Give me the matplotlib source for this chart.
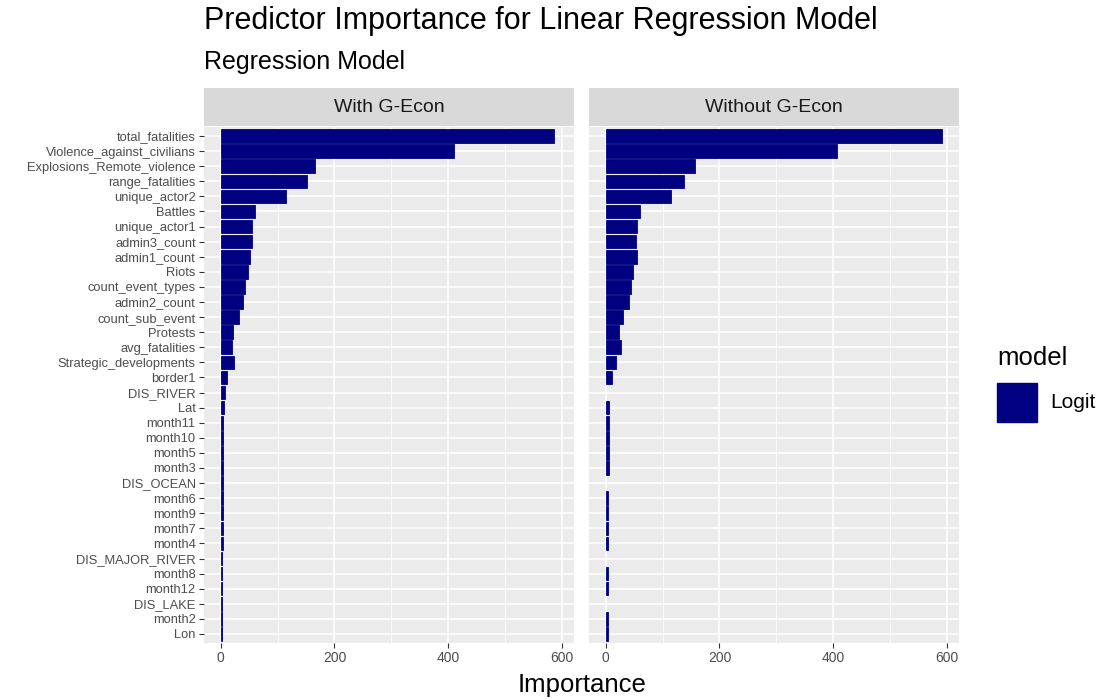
import matplotlib.pyplot as plt
import numpy as np
from matplotlib.patches import Rectangle

plt.rcParams['font.family'] = ['Liberation Sans', 'DejaVu Sans']

# Predictors, listed top to bottom as they appear in the chart
predictors = ['total_fatalities', 'Violence_against_civilians', 'Explosions_Remote_violence',
              'range_fatalities', 'unique_actor2', 'Battles', 'unique_actor1', 'admin3_count',
              'admin1_count', 'Riots', 'count_event_types', 'admin2_count', 'count_sub_event',
              'Protests', 'avg_fatalities', 'Strategic_developments', 'border1', 'DIS_RIVER',
              'Lat', 'month11', 'month10', 'month5', 'month3', 'DIS_OCEAN', 'month6', 'month9',
              'month7', 'month4', 'DIS_MAJOR_RIVER', 'month8', 'month12', 'DIS_LAKE', 'month2', 'Lon']

with_gecon = [587, 410, 165, 152, 114, 60, 55, 54, 51, 48, 42, 39, 32, 22, 20, 24, 11, 8,
              5, 3.5, 3.5, 3.5, 3.5, 3, 3, 3, 3, 3, 2.5, 2.5, 2.5, 2.5, 2, 2]

# G-Econ distance variables are not part of the second model
without_gecon = [592, 407, 157, 138, 115, 61, 55, 53, 54, 47, 44, 41, 31, 24, 26, 18, 11, np.nan,
                 5, 5, 5, 5, 5, np.nan, 4, 4, 4, 4, np.nan, 4, 4, np.nan, 3.5, 3.5]

panels = ['With G-Econ', 'Without G-Econ']
series = [with_gecon, without_gecon]
bar_color = '#000080'

W, H = 1099, 700
fig = plt.figure(figsize=(W / 100, H / 100), dpi=100)

def px_axes(x0, y0, x1, y1):
    return fig.add_axes([x0 / W, 1 - y1 / H, (x1 - x0) / W, (y1 - y0) / H])

n = len(predictors)
ypos = np.arange(n)[::-1]
xmax = np.nanmax([np.nanmax(s) for s in series])
pad = 0.05 * xmax

panel_x = [(204, 574), (589, 959)]
for i, (name, vals) in enumerate(zip(panels, series)):
    x0, x1 = panel_x[i]
    ax = px_axes(x0, 127, x1, 643)
    ax.set_facecolor('#EBEBEB')
    vals = np.array(vals, dtype=float)
    mask = ~np.isnan(vals)
    ax.barh(ypos[mask], vals[mask], height=0.9, color=bar_color,
            edgecolor=bar_color, linewidth=0.6, zorder=3)
    ax.set_xlim(-pad, xmax + pad)
    ax.set_ylim(-0.6, n - 0.4)
    ax.set_xticks([0, 200, 400, 600])
    ax.set_xticks([100, 300, 500], minor=True)
    ax.set_yticks(ypos)
    ax.grid(which='major', color='white', linewidth=1.1, zorder=1)
    ax.grid(which='minor', axis='x', color='white', linewidth=0.55, zorder=1)
    for sp in ax.spines.values():
        sp.set_visible(False)
    ax.tick_params(axis='both', which='major', length=3.5, width=0.8, color='#333333',
                   labelcolor='#4D4D4D', pad=2.5)
    ax.tick_params(axis='x', labelsize=10)
    ax.tick_params(axis='y', labelsize=9.3)
    ax.tick_params(which='minor', length=0)
    if i == 0:
        ax.set_yticklabels(predictors)
    else:
        ax.tick_params(axis='y', length=0, labelleft=False)

    # facet strip
    sax = px_axes(x0, 88, x1, 126)
    sax.set_xticks([])
    sax.set_yticks([])
    sax.set_facecolor('#D9D9D9')
    for sp in sax.spines.values():
        sp.set_visible(False)
    sax.text(0.5, 0.5, name, ha='center', va='center', fontsize=14, color='#1A1A1A',
             transform=sax.transAxes)

fig.text(204 / W, 1 - 21 / H, 'Predictor Importance for Linear Regression Model',
         fontsize=22, ha='left', va='center', color='black')
fig.text(204 / W, 1 - 62 / H, 'Regression Model', fontsize=18, ha='left', va='center',
         color='black')
fig.text(582 / W, 1 - 685 / H, 'Importance', fontsize=18.5, ha='center', va='center',
         color='black')

# legend
fig.text(997 / W, 1 - 358 / H, 'model', fontsize=18.5, ha='left', va='center')
fig.patches.append(Rectangle((997 / W, 1 - 422 / H), 40 / W, 39 / H, transform=fig.transFigure,
                             facecolor=bar_color, edgecolor=bar_color))
fig.text(1050 / W, 1 - 402 / H, 'Logit', fontsize=15, ha='left', va='center')

fig.savefig('out.png', dpi=100)
